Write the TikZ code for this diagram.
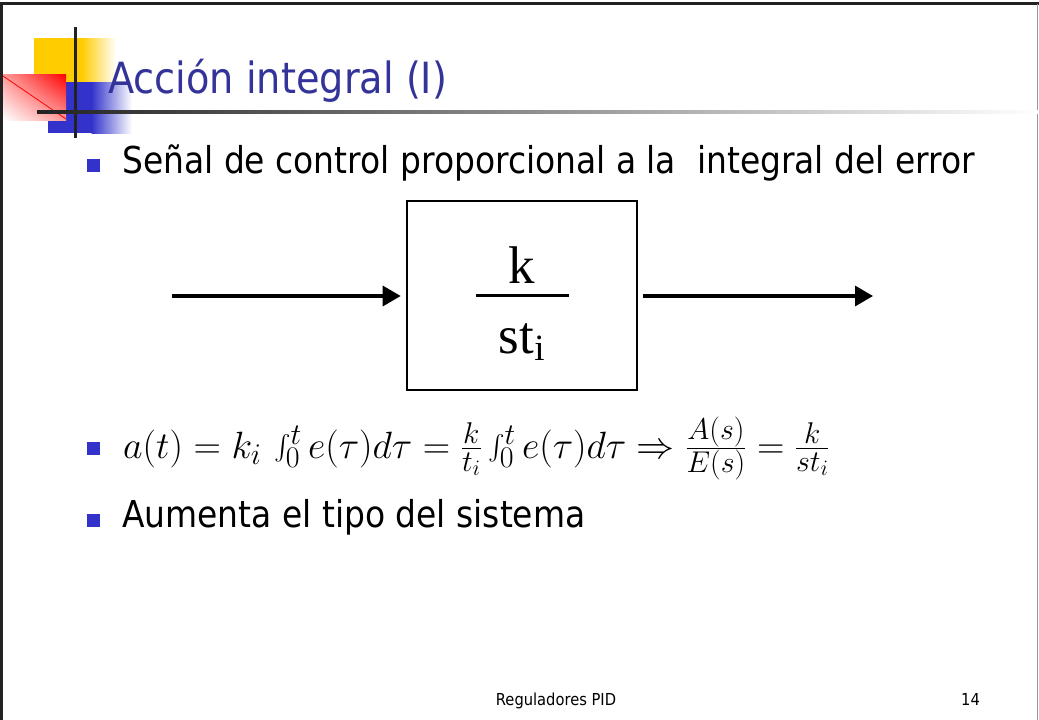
\RequirePackage{fix-cm}
\documentclass[tikz,border=0pt]{standalone}
\usepackage{amsmath}
\usepackage{fontspec}
\setmainfont{DejaVu Sans}[FakeStretch=0.89]
\newfontfamily\blkfont{Liberation Serif}
\DeclareMathSizes{38}{38}{30}{22}
\usetikzlibrary{arrows.meta,positioning,shadings}
\definecolor{titleblue}{RGB}{51,51,153}
\definecolor{bulletblue}{RGB}{51,51,204}
\definecolor{logoyellow}{RGB}{255,204,0}
\definecolor{logored}{RGB}{255,0,0}
\definecolor{rulegray}{RGB}{34,34,34}

\begin{document}
\begin{tikzpicture}[x=1pt,y=-1pt,
    txt/.style={inner sep=0pt, anchor=base west, font=\fontsize{37}{44}\selectfont},
    bulletsq/.style={fill=bulletblue},
    blockbox/.style={draw, line width=2.6pt, minimum width=230pt, minimum height=189pt, inner sep=0pt},
    blktxt/.style={inner sep=0pt, anchor=base, font=\blkfont\fontsize{53}{60}\selectfont},
    sigarrow/.style={line width=3.4pt, -{Triangle[length=18pt,width=20pt]}}]
    \useasboundingbox (0,0) rectangle (1039,720);

    % Slide frame
    \draw[line width=3pt, rulegray] (1.5,720) -- (1.5,3.5) -- (1039,3.5);
    \draw[line width=1.2pt, black!40] (1037.5,3.5) -- (1037.5,720);

    % Logo
    \fill[logoyellow] (34,38) rectangle (82,82);
    \shade[left color=logoyellow, right color=white] (81.5,38) rectangle (116,82);
    \fill[bulletblue] (48,82) rectangle (92,133);
    \shade[left color=bulletblue, right color=white] (91.5,82) rectangle (132,133);
    \shade[upper right=logored, upper left=logored!40, lower right=logored!40, lower left=white]
        (3,74) rectangle (66,120);
    \draw[logored, line width=0.8pt] (3,76) -- (66,119);
    \draw[line width=3pt, rulegray] (75,27) -- (75,138);
    \shade[left color=rulegray, right color=white] (37,110.5) rectangle (1039,113.5);

    % Title
    \node[inner sep=0pt, anchor=base west, text=titleblue, font=\fontsize{43}{52}\selectfont]
        (title) at (108,93) {Acción integral (I)};

    % Bullets
    \fill[bulletsq] (87,159) rectangle (100,172);
    \node[txt] (b1) at (122,173) {Señal de control proporcional a la\ \ integral del error};
    \fill[bulletsq] (87,442) rectangle (100,455);
    \node[txt, font=\fontsize{38}{44}\selectfont] (b2) at (123,458)
        {$a(t)=k_i\,\int_0^t e(\tau)d\tau=\frac{k}{t_i}\int_0^t e(\tau)d\tau\Rightarrow\frac{A(s)}{E(s)}=\frac{k}{st_i}$};
    \fill[bulletsq] (87,514) rectangle (100,527);
    \node[txt] (b3) at (122,527) {Aumenta el tipo del sistema};

    % Block diagram
    \node[blockbox] (blk) at (522,295.5) {};
    \node[blktxt] (num) at (522,283) {k};
    \draw[line width=3pt] (476,295) -- (569,295);
    \node[blktxt] (den) at (522,353) {st\textsubscript{i}};
    \coordinate (sin) at (172,296);
    \coordinate (sout) at (873,296);
    \draw[sigarrow, shorten >=5pt] (sin) -- (blk.west |- sin);
    \draw[sigarrow, shorten <=5pt] (blk.east |- sout) -- (sout);

    % Footer
    \node[inner sep=0pt, anchor=base, font=\fontsize{16.5}{20}\selectfont] (foot) at (556,705) {Reguladores PID};
    \node[inner sep=0pt, anchor=base west, font=\fontsize{16.5}{20}\selectfont] (page) at (961,705) {14};
\end{tikzpicture}
\end{document}
